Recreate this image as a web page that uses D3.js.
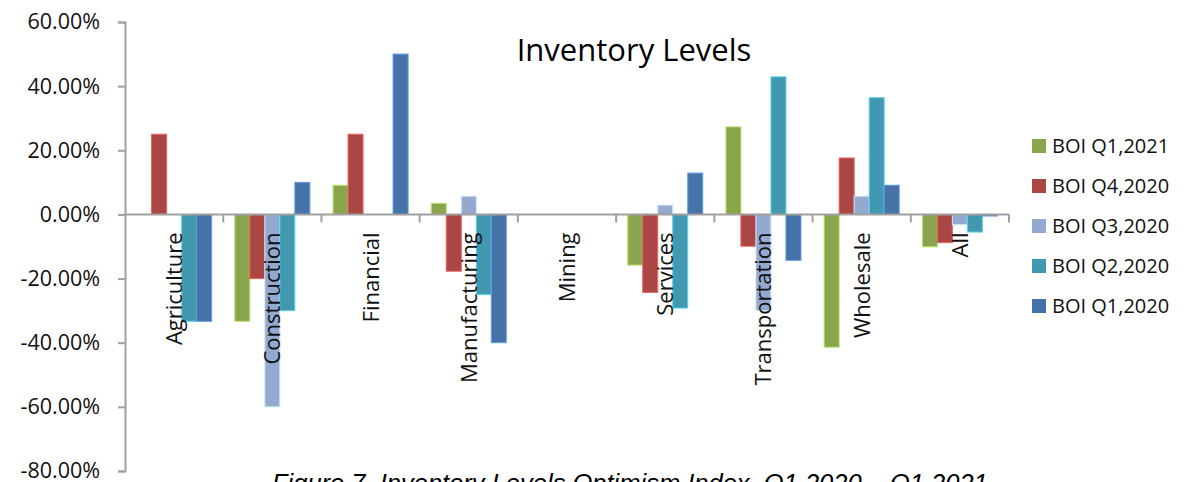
<!DOCTYPE html>
<html>
<head>
    <meta charset="UTF-8">
    <title>Inventory Levels</title>
    <script src="https://cdn.jsdelivr.net/npm/d3@7/dist/d3.min.js"></script>
    <style>
        body { margin: 0; background: #fff; }
        svg { display: block; font-family: "Open Sans", sans-serif; }
    </style>
</head>
<body>

<svg id="chart" width="1184" height="482"></svg>

<script type="text/javascript">

// categories along the x axis
var sectors = ["Agriculture", "Construction", "Financial", "Manufacturing", "Mining",
               "Services", "Transportation", "Wholesale", "All"];

// one series per survey quarter (legend order)
var seriesNames = ["BOI Q1,2021", "BOI Q4,2020", "BOI Q3,2020", "BOI Q2,2020", "BOI Q1,2020"];
var seriesColors = ["#89a54e", "#aa4643", "#93a9d0", "#4198af", "#4572a7"];

// values, same order as sectors
var q1_2021 = [0, -0.3333, 0.0909, 0.0345, 0, -0.158, 0.273, -0.414, -0.101];
var q4_2020 = [0.25, -0.20, 0.25, -0.177, 0, -0.243, -0.099, 0.176, -0.088];
var q3_2020 = [0, -0.60, 0, 0.057, 0, 0.029, -0.30, 0.057, -0.032];
var q2_2020 = [-0.3333, -0.30, 0, -0.25, 0, -0.292, 0.429, 0.364, -0.055];
var q1_2020 = [-0.3333, 0.10, 0.50, -0.40, 0, 0.129, -0.143, 0.091, -0.005];

var seriesValues = [q1_2021, q4_2020, q3_2020, q2_2020, q1_2020];

// y tick values
var yTicks = [0.6, 0.4, 0.2, 0, -0.2, -0.4, -0.6, -0.8];

var titleText = "Inventory Levels";
var captionText = "Figure 7. Inventory Levels Optimism Index, Q1 2020 \u2013 Q1 2021";

// plot area
var plot = { left: 125, right: 1009, top: 22, bottom: 471 };

var svg = d3.select("#chart");

var x = d3.scaleBand()
    .domain(sectors)
    .range([plot.left, plot.right])
    .paddingInner(0.236)
    .paddingOuter(0.118);

var xInner = d3.scaleBand()
    .domain(seriesNames)
    .range([0, x.bandwidth()]);

var y = d3.scaleLinear()
    .domain([-0.8, 0.6])
    .range([plot.bottom, plot.top]);

// bars
var groups = svg.append("g").selectAll("g")
    .data(sectors)
    .join("g")
    .attr("transform", function(d) { return "translate(" + x(d) + ",0)"; });

groups.selectAll("rect")
    .data(function(d, i) {
        return seriesNames.map(function(s, k) {
            return { series: s, value: seriesValues[k][i], color: seriesColors[k] };
        });
    })
    .join("rect")
    .filter(function(d) { return d.value !== 0; })
    .attr("x", function(d) { return xInner(d.series); })
    .attr("width", xInner.bandwidth())
    .attr("y", function(d) { return y(Math.max(0, d.value)); })
    .attr("height", function(d) { return Math.abs(y(d.value) - y(0)); })
    .attr("fill", function(d) { return d.color; })
    .attr("stroke", function(d) { return d3.color(d.color).brighter(0.9); })
    .attr("stroke-width", 1);

// y axis
var yAxis = svg.append("g")
    .attr("transform", "translate(" + plot.left + ",0)")
    .call(d3.axisLeft(y).tickValues(yTicks).tickSize(7).tickPadding(18)
        .tickFormat(function(d) { return (d * 100).toFixed(2) + "%"; }));
yAxis.select(".domain").attr("stroke", "#a0a0a0").attr("stroke-width", 2);
yAxis.selectAll(".tick line").attr("stroke", "#a0a0a0").attr("stroke-width", 2);
yAxis.selectAll(".tick text")
    .attr("fill", "#111")
    .style("font-size", "21.5px")
    .style("font-family", "'Open Sans', sans-serif");

// x axis along zero, ticks between the categories
var boundaries = sectors.map(function(d) { return x(d) - x.step() * x.paddingInner() / 2 + x.step(); });
var xAxisG = svg.append("g");
xAxisG.append("line")
    .attr("x1", plot.left).attr("x2", plot.right)
    .attr("y1", y(0)).attr("y2", y(0))
    .attr("stroke", "#a0a0a0").attr("stroke-width", 2);
xAxisG.selectAll("line.tick")
    .data(boundaries)
    .join("line")
    .attr("class", "tick")
    .attr("x1", function(d) { return d; }).attr("x2", function(d) { return d; })
    .attr("y1", y(0)).attr("y2", y(0) + 8)
    .attr("stroke", "#a0a0a0").attr("stroke-width", 2);

// category labels, rotated, reading upwards
svg.append("g").selectAll("text")
    .data(sectors)
    .join("text")
    .attr("transform", function(d) {
        return "translate(" + (x(d) + x.bandwidth() / 2 + 8) + "," + (y(0) + 18) + ") rotate(-90)";
    })
    .attr("text-anchor", "end")
    .attr("fill", "#111")
    .style("font-size", "22px")
    .text(function(d) { return d; });

// title
svg.append("text")
    .attr("x", 634)
    .attr("y", 61)
    .attr("text-anchor", "middle")
    .attr("fill", "#000")
    .style("font-size", "31px")
    .text(titleText);

// legend
var legend = svg.append("g").selectAll("g")
    .data(seriesNames)
    .join("g")
    .attr("transform", function(d, i) { return "translate(1032," + (146 + i * 40) + ")"; });
legend.append("rect")
    .attr("x", 0).attr("y", -7)
    .attr("width", 14).attr("height", 14)
    .attr("fill", function(d, i) { return seriesColors[i]; });
legend.append("text")
    .attr("x", 20)
    .attr("y", 7)
    .attr("fill", "#111")
    .style("font-size", "20px")
    .text(function(d) { return d; });

// figure caption, partly cut off at the bottom edge (as in the source)
svg.append("text")
    .attr("x", 272)
    .attr("y", 492)
    .attr("fill", "#000")
    .style("font-family", "'Liberation Sans', Arial, sans-serif")
    .style("font-style", "italic")
    .style("font-size", "25.5px")
    .text(captionText);

</script>
</body>
</html>
